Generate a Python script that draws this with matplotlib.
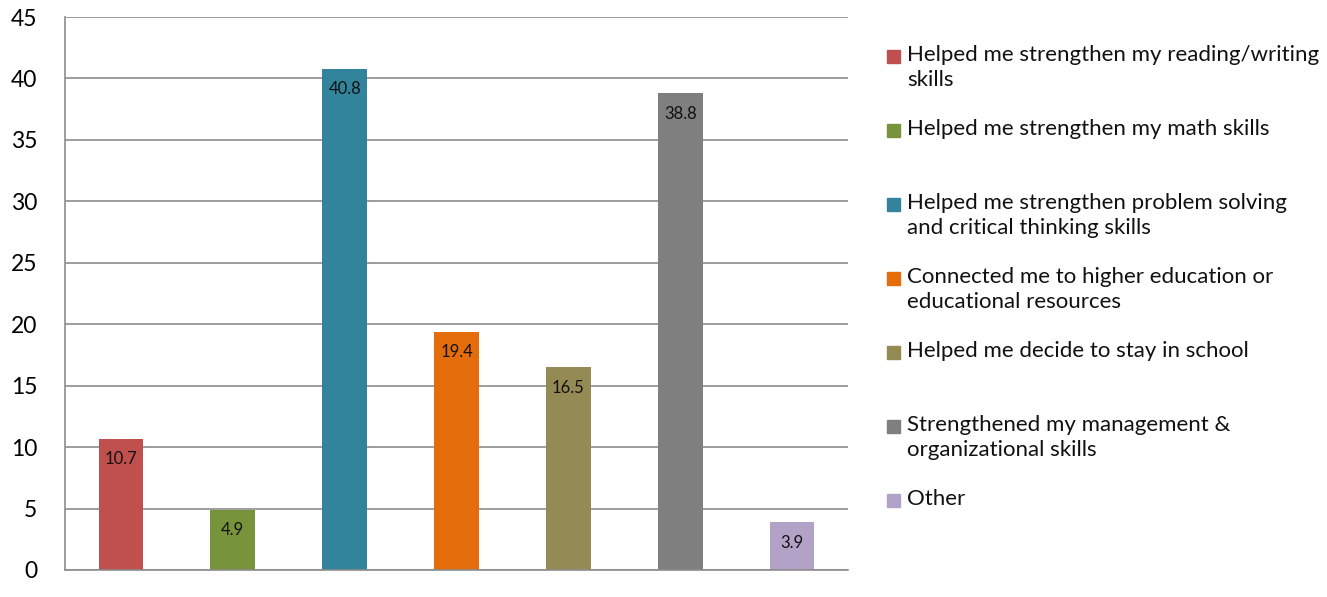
import matplotlib.pyplot as plt
from matplotlib.patches import Rectangle

plt.rcParams['font.family'] = ['Lato', 'DejaVu Sans']

categories = [
    "Helped me strengthen my reading/writing\nskills",
    "Helped me strengthen my math skills",
    "Helped me strengthen problem solving\nand critical thinking skills",
    "Connected me to higher education or\neducational resources",
    "Helped me decide to stay in school",
    "Strengthened my management &\norganizational skills",
    "Other",
]
values = [10.7, 4.9, 40.8, 19.4, 16.5, 38.8, 3.9]
colors = ["#C0504D", "#77933C", "#31849B", "#E46C0A", "#948A54", "#7F7F7F", "#B3A2C7"]
yticks = list(range(0, 50, 5))

fig = plt.figure(figsize=(13.27, 5.97), dpi=100)
W, H = 1327, 597
ax = fig.add_axes([65 / W, 1 - 570 / H, (848 - 65) / W, (570 - 17) / H])

x = list(range(len(values)))
bars = ax.bar(x, values, width=0.4, color=colors, zorder=2)
for b, v in zip(bars, values):
    ax.annotate(f"{v}", (b.get_x() + b.get_width() / 2, v), xytext=(0, -9),
                textcoords="offset points", ha="center", va="top", fontsize=12,
                color="#111111", zorder=3)

ax.set_xlim(-0.5, len(values) - 0.5)
ax.set_ylim(0, 45)
ax.set_yticks(yticks)
ax.set_xticks([])
ax.tick_params(axis="y", length=0, labelsize=16.5, pad=20)
ax.grid(axis="y", color="#8C8C8C", linewidth=1.2, zorder=0)
for s in ["top", "right"]:
    ax.spines[s].set_visible(False)
for s in ["left", "bottom"]:
    ax.spines[s].set_color("#8C8C8C")
    ax.spines[s].set_linewidth(1.2)

# legend, evenly spaced entries like the original
for i, (lab, c) in enumerate(zip(categories, colors)):
    yc = 56 + i * 74
    fig.patches.append(Rectangle((887 / W, 1 - (yc + 7) / H), 13 / W, 13 / H,
                                 transform=fig.transFigure, color=c))
    fig.text(907 / W, 1 - (yc - 11) / H, lab, fontsize=16, va="top", ha="left",
             linespacing=1.3, color="#111111")

fig.savefig("out.png", dpi=100)
